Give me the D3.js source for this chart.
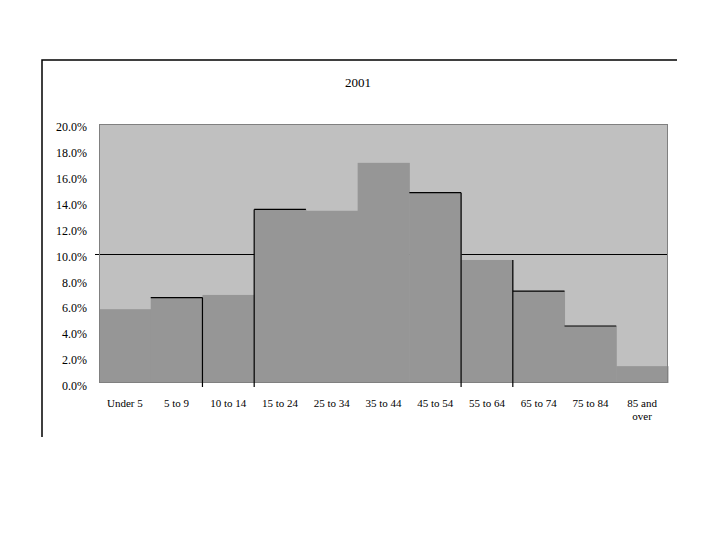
<!DOCTYPE html>
<html>
<head>
<meta charset="utf-8">
<script src="https://cdn.jsdelivr.net/npm/d3@7"></script>
<style>
  html, body { margin: 0; padding: 0; background: #ffffff; }
  svg { display: block; }
  text { font-family: "Liberation Serif", "Times New Roman", serif; fill: #000; }
</style>
</head>
<body>
<svg id="chart" width="720" height="540"></svg>
<script>
// ---- data ----
const title = "2001";
const categories = ["Under 5", "5 to 9", "10 to 14", "15 to 24", "25 to 34", "35 to 44",
                    "45 to 54", "55 to 64", "65 to 74", "75 to 84", "85 and over"];
const categoryLabels = [["Under 5"], ["5 to 9"], ["10 to 14"], ["15 to 24"], ["25 to 34"], ["35 to 44"],
                        ["45 to 54"], ["55 to 64"], ["65 to 74"], ["75 to 84"], ["85 and", "over"]];
const values = [5.7, 6.6, 6.8, 13.4, 13.3, 17.0, 14.7, 9.5, 7.1, 4.4, 1.3];
const yTicks = [0, 2, 4, 6, 8, 10, 12, 14, 16, 18, 20];
const referenceValue = [10];
// black outline fragments seen in the picture
const topOutlined = ["5 to 9", "15 to 24", "45 to 54", "65 to 74", "75 to 84"];
const edgeOutlined = [["5 to 9", "right"], ["15 to 24", "left"], ["45 to 54", "right"], ["55 to 64", "right"]];

// ---- layout ----
const svg = d3.select("#chart");
const plot = { left: 99, right: 668, top: 124, bottom: 383 };

const x = d3.scaleBand().domain(categories).range([plot.left, plot.right]).padding(0);
const y = d3.scaleLinear().domain([0, 20]).range([plot.bottom, plot.top]);

// outer frame (partial border)
svg.append("path")
  .attr("d", "M42,437 L42,60 L677,60")
  .attr("fill", "none").attr("stroke", "#000").attr("stroke-width", 1.5);

// title
svg.append("text")
  .attr("x", 358).attr("y", 87)
  .attr("text-anchor", "middle")
  .style("font-size", "13px")
  .text(title);

// plot background
svg.append("rect")
  .attr("x", plot.left).attr("y", plot.top)
  .attr("width", plot.right - plot.left).attr("height", plot.bottom - plot.top)
  .attr("fill", "#c0c0c0");

// reference line at 10%
svg.selectAll("line.ref").data(referenceValue).join("line")
  .attr("class", "ref")
  .attr("x1", plot.left - 4).attr("x2", plot.right)
  .attr("y1", d => Math.round(y(d)) + 0.5).attr("y2", d => Math.round(y(d)) + 0.5)
  .attr("stroke", "#000").attr("stroke-width", 1);

// bars
svg.selectAll("rect.bar").data(categories).join("rect")
  .attr("class", "bar")
  .attr("x", d => x(d))
  .attr("width", x.bandwidth() + 0.5)
  .attr("y", (d, i) => y(values[i]))
  .attr("height", (d, i) => y(0) - y(values[i]))
  .attr("fill", "#969696");

// plot border
svg.append("rect")
  .attr("x", plot.left + 0.5).attr("y", plot.top + 0.5)
  .attr("width", plot.right - plot.left - 1).attr("height", plot.bottom - plot.top - 1)
  .attr("fill", "none").attr("stroke", "#808080").attr("stroke-width", 1);

// outline fragments
const valOf = c => values[categories.indexOf(c)];
svg.selectAll("line.top").data(topOutlined).join("line")
  .attr("class", "top")
  .attr("x1", d => x(d)).attr("x2", d => x(d) + x.bandwidth())
  .attr("y1", d => y(valOf(d))).attr("y2", d => y(valOf(d)))
  .attr("stroke", "#000").attr("stroke-width", 1.2);
svg.selectAll("line.edge").data(edgeOutlined).join("line")
  .attr("class", "edge")
  .attr("x1", d => d[1] === "right" ? x(d[0]) + x.bandwidth() : x(d[0]))
  .attr("x2", d => d[1] === "right" ? x(d[0]) + x.bandwidth() : x(d[0]))
  .attr("y1", d => y(valOf(d[0])))
  .attr("y2", plot.bottom + 4)
  .attr("stroke", "#000").attr("stroke-width", 1.2);

// y axis labels
const yAxis = d3.axisLeft(y).tickValues(yTicks).tickSize(0).tickPadding(12)
  .tickFormat(d => d3.format(".1f")(d) + "%");
const gy = svg.append("g").attr("transform", `translate(${plot.left},0)`).call(yAxis);
gy.select(".domain").remove();
gy.selectAll("text")
  .attr("dy", "0.55em")
  .style("font-size", "12px")
  .style("font-family", "'Liberation Serif', 'Times New Roman', serif");

// x axis labels
const xl = svg.selectAll("text.xlab").data(categories).join("text")
  .attr("class", "xlab")
  .attr("text-anchor", "middle")
  .attr("x", d => x(d) + x.bandwidth() / 2)
  .attr("y", 407)
  .style("font-size", "11px");
xl.each(function (d, i) {
  const t = d3.select(this);
  categoryLabels[i].forEach((line, j) => {
    t.append("tspan")
      .attr("x", x(d) + x.bandwidth() / 2)
      .attr("dy", j === 0 ? 0 : 13)
      .text(line);
  });
});
</script>
</body>
</html>
